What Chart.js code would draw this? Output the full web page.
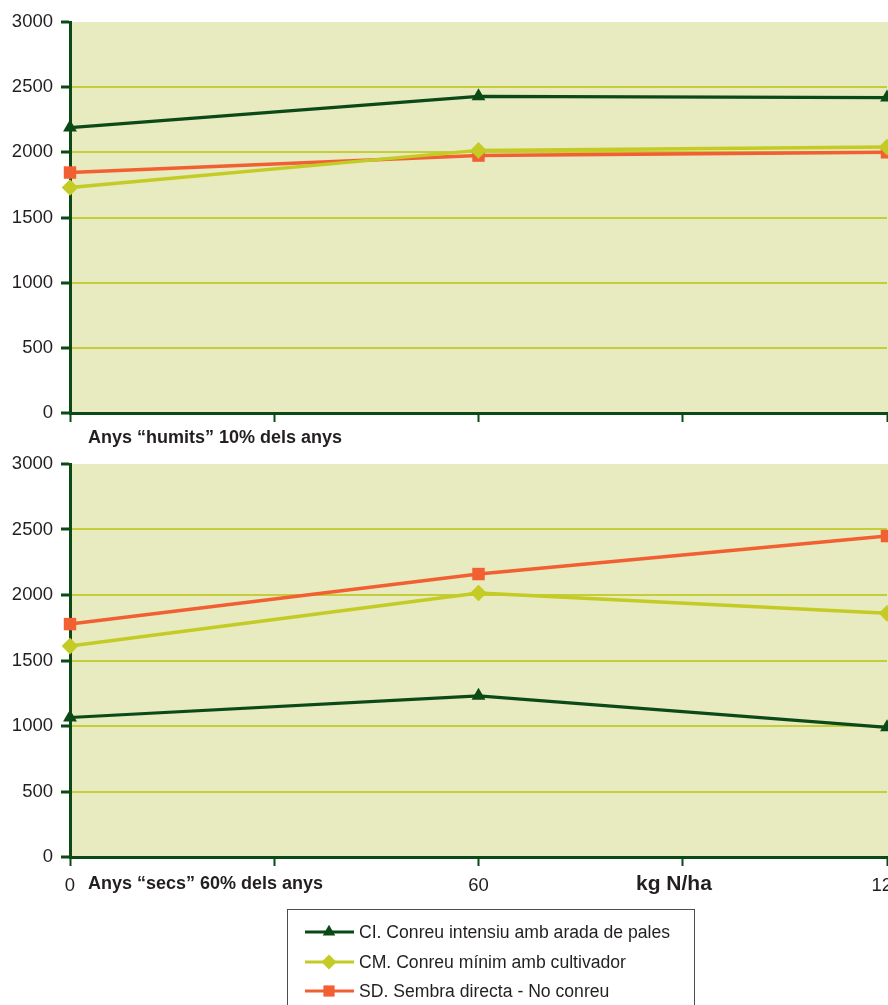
<!DOCTYPE html>
<html>
<head>
<meta charset="utf-8">
<script src="https://cdn.jsdelivr.net/npm/chart.js@4.4.1/dist/chart.umd.min.js"></script>
<style>
  html, body { margin: 0; padding: 0; background: #ffffff; }
  #wrap { position: relative; width: 888px; height: 1005px; overflow: hidden; }
  #humid { position: absolute; left: 0; top: 0; }
  #dry { position: absolute; left: 0; top: 450px; }
</style>
</head>
<body>
<div id="wrap">
  <canvas id="humid" width="888" height="450"></canvas>
  <canvas id="dry" width="888" height="555"></canvas>
</div>
<script>
// Nitrogen doses (kg N/ha) and the tick grid of the x axis
const doses = [0, 60, 120];
const doseTicks = [0, 30, 60, 90, 120];
const doseLabels = ['0', '60', '120'];

// Yield axis
const yieldTicks = [0, 500, 1000, 1500, 2000, 2500, 3000];

// Series names
const seriesNames = [
  'CI. Conreu intensiu amb arada de pales',
  'CM. Conreu mínim amb cultivador',
  'SD. Sembra directa - No conreu'
];

// Wet years (10% of years)
const humidCI = [2190, 2430, 2420];
const humidCM = [1730, 2015, 2040];
const humidSD = [1845, 1975, 2000];

// Dry years (60% of years)
const dryCI = [1065, 1230, 990];
const dryCM = [1610, 2015, 1860];
const drySD = [1778, 2160, 2450];

const humidCaption = 'Anys “humits” 10% dels anys';
const dryCaption = 'Anys “secs” 60% dels anys';
const xTitle = 'kg N/ha';

// Styling
const C_CI = '#0b4a17';
const C_CM = '#c3cb24';
const C_SD = '#f15f32';
const AXIS = '#0b4a17';
const GRID = '#c6cd3a';
const PLOT_BG = '#e8eabf';
const TEXT = '#231f20';
const FONT = '"Liberation Sans", Arial, Helvetica, sans-serif';

const styles = [
  { color: C_CI, pointStyle: 'triangle', radius: 8, width: 3.2 },
  { color: C_CM, pointStyle: 'rectRot', radius: 8.3, width: 3.5 },
  { color: C_SD, pointStyle: 'rect', radius: 8.8, width: 3.5 }
];

function makeDatasets(series) {
  return series.map((vals, i) => ({
    label: seriesNames[i],
    data: doses.map((d, k) => ({ x: d, y: vals[k] })),
    borderColor: styles[i].color,
    backgroundColor: styles[i].color,
    borderWidth: styles[i].width,
    pointStyle: styles[i].pointStyle,
    pointRadius: styles[i].radius,
    pointHoverRadius: styles[i].radius,
    pointBorderWidth: 0,
    tension: 0,
    clip: false
  }));
}

// Fills the plotting area with the pale green background
const plotBackground = {
  id: 'plotBackground',
  beforeDraw(chart) {
    const { ctx, chartArea: a } = chart;
    ctx.save();
    ctx.fillStyle = PLOT_BG;
    ctx.fillRect(a.left, a.top, a.right - a.left + 2, a.bottom - a.top);
    ctx.restore();
  }
};

// Free text placed under each panel
function captionPlugin(items) {
  return {
    id: 'captions',
    afterDraw(chart) {
      const { ctx } = chart;
      ctx.save();
      ctx.fillStyle = TEXT;
      ctx.textBaseline = 'middle';
      ctx.textAlign = 'left';
      items.forEach(t => {
        ctx.font = t.font;
        ctx.fillText(t.text, t.x, t.y);
      });
      ctx.restore();
    }
  };
}

// Boxed legend with line + marker symbols
const legendBox = {
  id: 'legendBox',
  afterDraw(chart) {
    const { ctx } = chart;
    const left = 287, top = 459, right = 694;
    ctx.save();
    ctx.strokeStyle = '#4d4d4d';
    ctx.lineWidth = 1;
    ctx.strokeRect(left + 0.5, top + 0.5, right - left, 200);
    const rows = [482, 512, 541];
    chart.data.datasets.forEach((ds, i) => {
      const y = rows[i];
      ctx.strokeStyle = ds.borderColor;
      ctx.lineWidth = 3;
      ctx.beginPath();
      ctx.moveTo(305, y);
      ctx.lineTo(354, y);
      ctx.stroke();
      ctx.fillStyle = ds.borderColor;
      Chart.helpers.drawPoint(ctx, {
        pointStyle: ds.pointStyle,
        radius: ds.pointRadius * 0.9,
        borderWidth: 0,
        rotation: 0
      }, 329, y);
      ctx.fillStyle = TEXT;
      ctx.font = '17.6px ' + FONT;
      ctx.textBaseline = 'middle';
      ctx.textAlign = 'left';
      ctx.fillText(ds.label, 359, y + 1);
    });
    ctx.restore();
  }
};

function makeOptions(showXLabels, topPad, bottomSpace) {
  return {
    responsive: false,
    animation: false,
    devicePixelRatio: 1,
    layout: { autoPadding: false, padding: { left: 0, right: 1, top: topPad, bottom: 0 } },
    plugins: { legend: { display: false }, tooltip: { enabled: false } },
    scales: {
      x: {
        type: 'linear',
        min: 0,
        max: 120,
        afterBuildTicks(scale) {
          scale.ticks = doseTicks.map(v => ({ value: v }));
        },
        afterFit(scale) {
          scale.height = bottomSpace;
          scale.paddingLeft = 0;
          scale.paddingRight = 0;
        },
        border: { display: true, color: AXIS, width: 3 },
        grid: {
          drawOnChartArea: false,
          drawTicks: true,
          tickLength: 9,
          tickColor: AXIS,
          tickWidth: 2
        },
        ticks: {
          display: showXLabels,
          autoSkip: false,
          maxRotation: 0,
          padding: 9,
          color: TEXT,
          font: { family: FONT, size: 18.5 },
          callback: v => (doses.includes(v) ? doseLabels[doses.indexOf(v)] : '')
        }
      },
      y: {
        type: 'linear',
        min: 0,
        max: 3000,
        afterBuildTicks(scale) {
          scale.ticks = yieldTicks.map(v => ({ value: v }));
        },
        afterFit(scale) {
          scale.width = 70;
          scale.paddingTop = 0;
          scale.paddingBottom = 0;
        },
        border: { display: true, color: AXIS, width: 3 },
        grid: {
          color: c => (c.tick && (c.tick.value === 0 || c.tick.value === 3000) ? 'rgba(0,0,0,0)' : GRID),
          lineWidth: 2,
          drawTicks: true,
          tickLength: 9,
          tickColor: AXIS,
          tickWidth: 3
        },
        ticks: {
          padding: 8,
          color: TEXT,
          font: { family: FONT, size: 18.5 },
          callback: v => String(v)
        }
      }
    }
  };
}

new Chart(document.getElementById('humid'), {
  type: 'line',
  data: { datasets: makeDatasets([humidCI, humidCM, humidSD]) },
  options: makeOptions(false, 22, 37),
  plugins: [plotBackground, captionPlugin([
    { text: humidCaption, x: 88, y: 438, font: 'bold 18px ' + FONT }
  ])]
});

new Chart(document.getElementById('dry'), {
  type: 'line',
  data: { datasets: makeDatasets([dryCI, dryCM, drySD]) },
  options: makeOptions(true, 14, 148),
  plugins: [plotBackground, legendBox, captionPlugin([
    { text: dryCaption, x: 88, y: 434, font: 'bold 18px ' + FONT },
    { text: xTitle, x: 636, y: 434, font: 'bold 21px ' + FONT }
  ])]
});
</script>
</body>
</html>
